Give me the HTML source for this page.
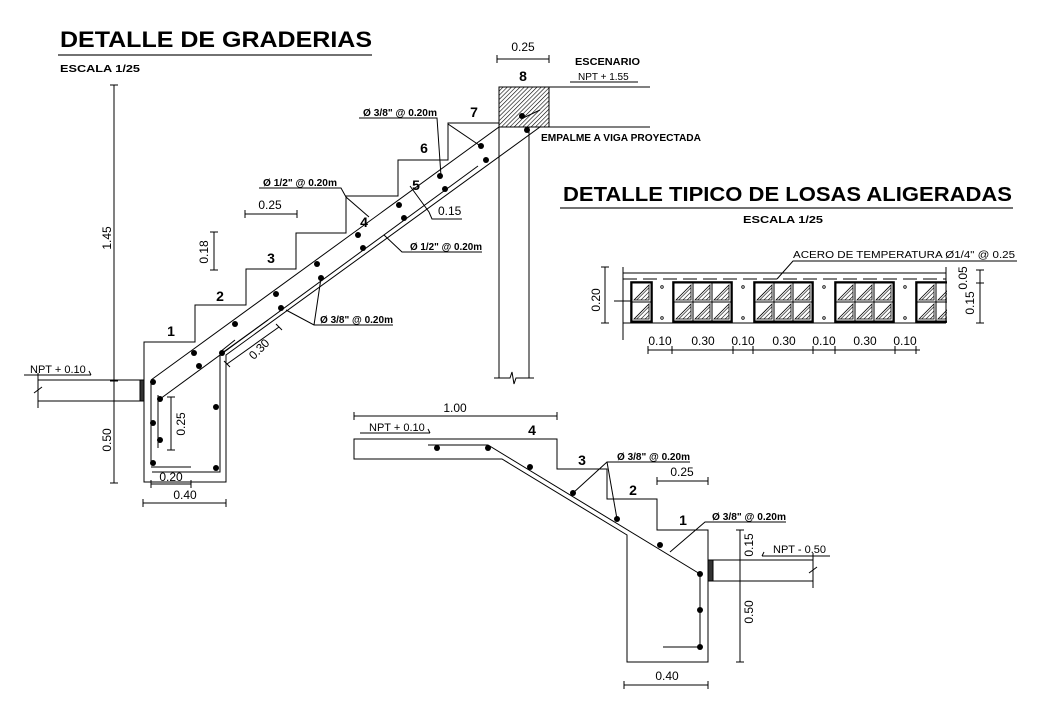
<!DOCTYPE html>
<html><head><meta charset="utf-8"><style>
html,body{margin:0;padding:0;background:#fff}
svg{display:block}
text{font-family:"Liberation Sans",sans-serif;fill:#000}
.d{font-size:12px}
.n{font-size:14px;font-weight:bold}
</style></head><body>
<svg width="1039" height="717" viewBox="0 0 1039 717" xmlns="http://www.w3.org/2000/svg">
<defs>
<pattern id="h" width="3" height="3" patternUnits="userSpaceOnUse" patternTransform="rotate(45)"><line x1="0" y1="0" x2="0" y2="3" stroke="#000" stroke-width="1.2"/></pattern>
<g id="cell"><rect x="0" y="0" width="19" height="19" fill="#fff" stroke="#000" stroke-width="1"/><polygon points="2,17 17,2 17,17" fill="url(#h)" stroke="#000" stroke-width="0.8"/></g>
</defs>
<rect width="1039" height="717" fill="#fff"/>

<text x="60" y="47" font-size="22" font-weight="bold" textLength="312" lengthAdjust="spacingAndGlyphs">DETALLE DE GRADERIAS</text>
<line x1="58" y1="55" x2="372" y2="55" stroke="#444" stroke-width="1.5"/>
<text x="60" y="72" font-size="10" font-weight="bold" textLength="80" lengthAdjust="spacingAndGlyphs">ESCALA 1/25</text>
<text x="563" y="201" font-size="20" font-weight="bold" textLength="449" lengthAdjust="spacingAndGlyphs">DETALLE TIPICO DE LOSAS ALIGERADAS</text>
<line x1="560" y1="208" x2="1013" y2="208" stroke="#444" stroke-width="1.5"/>
<text x="743" y="223" font-size="10" font-weight="bold" textLength="80" lengthAdjust="spacingAndGlyphs">ESCALA 1/25</text>

<g stroke="#000" stroke-width="1" fill="none">
<polyline points="540,127 226,355 226,482 144,482 144,342 195,342 195,305 246,305 246,269 296,269 296,233 346,233 346,196 398,196 398,160 448,160 448,123 499,123"/>
<line x1="151" y1="380" x2="499" y2="127"/>
<rect x="499" y="87" width="50" height="40" fill="url(#h)"/>
<line x1="549" y1="87" x2="650" y2="87"/>
<line x1="549" y1="127" x2="650" y2="127"/>
<line x1="499" y1="127" x2="499" y2="378"/>
<line x1="529" y1="127" x2="529" y2="378"/>
<polyline points="494,378 510,378 512,372 514,384 516,378 534,378"/>
<line x1="38" y1="380" x2="144" y2="380"/>
<line x1="38" y1="401" x2="144" y2="401"/>
<line x1="38" y1="373" x2="38" y2="408"/>
<line x1="34" y1="393" x2="42" y2="387"/>
<rect x="140" y="380" width="4" height="21" fill="#333"/>
<line x1="24" y1="375" x2="91" y2="375"/><polyline points="89,371 91,375"/>
<polyline points="151,382 151,463"/>
<polyline points="151,467 191,467"/>
<polyline points="152,472 220,472 220,352 235,340"/>
<line x1="158" y1="395" x2="158" y2="448"/>
<line x1="160" y1="399" x2="478" y2="166"/>
<line x1="222" y1="353" x2="268" y2="320"/>
<line x1="114" y1="85" x2="114" y2="483"/>
<line x1="171" y1="397" x2="171" y2="450"/>
<line x1="151" y1="484" x2="191" y2="484"/>
<line x1="143" y1="503" x2="226" y2="503"/>
<line x1="214" y1="232" x2="214" y2="270"/>
<line x1="245" y1="214" x2="297" y2="214"/>
<line x1="227" y1="364" x2="279" y2="327"/>
<polyline points="410,186 429,212 432,219 462,219"/>
<polyline points="359,118 437,118 441,176"/>
<line x1="448" y1="124" x2="479" y2="145"/>
<polyline points="259,188 341,188 346,197 369,217"/>
<polyline points="482,252 402,252 384,235"/>
<polyline points="393,325 314,325 286,310"/>
<line x1="314" y1="325" x2="321" y2="278"/>
<line x1="540" y1="110" x2="523" y2="118"/>

<line x1="497" y1="59" x2="549" y2="59"/>
<line x1="570" y1="82" x2="638" y2="82"/>

<line x1="623" y1="267" x2="623" y2="340"/>
<line x1="623" y1="273" x2="946" y2="273"/>
<line x1="623" y1="323" x2="946" y2="323"/>
<line x1="623" y1="279" x2="946" y2="279" stroke-dasharray="14,6"/>
<line x1="605" y1="267" x2="605" y2="323"/>
<line x1="980" y1="270" x2="980" y2="323"/>
<line x1="648" y1="350" x2="920" y2="350"/>
<polyline points="1017,261 793,261 777,279"/>
<line x1="614" y1="301" x2="634" y2="301"/>

<polygon points="354,439 557,439 557,469 607,469 607,499 657,499 657,530 708,530 708,662 627,662 627,535 502,459 354,459"/>
<polyline points="428,445 488,445 700,574 700,647 663,647"/>
<line x1="708" y1="560" x2="813" y2="560"/>
<line x1="708" y1="581" x2="813" y2="581"/>
<line x1="813" y1="553" x2="813" y2="588"/>
<line x1="809" y1="573" x2="817" y2="567"/>
<rect x="708" y="560" width="5" height="21" fill="#333"/>
<line x1="354" y1="416" x2="557" y2="416"/>
<line x1="360" y1="433" x2="430" y2="433"/><polyline points="428,429 430,433"/>
<line x1="657" y1="481" x2="708" y2="481"/>
<line x1="740" y1="530" x2="740" y2="662"/>
<line x1="762" y1="556" x2="830" y2="556"/><polyline points="764,552 762,556"/>
<line x1="624" y1="685" x2="708" y2="685"/>
<polyline points="690,462 607,462 573,493"/>
<line x1="607" y1="462" x2="617" y2="519"/>
<polyline points="786,522 705,522 670,552"/>
</g>

<g stroke="#000" stroke-width="1">
<path d="M110,85h8M110,381h8M110,483h8M167,397h8M167,450h8M210,232h8M210,270h8M151,480v8M191,480v8M143,499v8M226,499v8M245,210v8M297,210v8M224,361l6,6M276,324l6,6M497,55v8M549,55v8M354,412v8M557,412v8M657,477v8M708,477v8M736,530h8M736,560h8M736,662h8M624,681v8M708,681v8M601,267h8M601,323h8M976,270h8M976,283h8M976,323h8M648,346v8M672,346v8M733,346v8M753,346v8M813,346v8M835,346v8M895,346v8M916,346v8"/>
</g>

<g>
<use href="#cell" x="632" y="283"/><use href="#cell" x="632" y="302"/>
<use href="#cell" x="674" y="283"/><use href="#cell" x="693" y="283"/><use href="#cell" x="712" y="283"/>
<use href="#cell" x="674" y="302"/><use href="#cell" x="693" y="302"/><use href="#cell" x="712" y="302"/>
<use href="#cell" x="755" y="283"/><use href="#cell" x="774" y="283"/><use href="#cell" x="793" y="283"/>
<use href="#cell" x="755" y="302"/><use href="#cell" x="774" y="302"/><use href="#cell" x="793" y="302"/>
<use href="#cell" x="836" y="283"/><use href="#cell" x="855" y="283"/><use href="#cell" x="874" y="283"/>
<use href="#cell" x="836" y="302"/><use href="#cell" x="855" y="302"/><use href="#cell" x="874" y="302"/>
<use href="#cell" x="917" y="283"/><use href="#cell" x="936" y="283"/>
<use href="#cell" x="917" y="302"/><use href="#cell" x="936" y="302"/>
</g>
<g fill="none" stroke="#000" stroke-width="1.6">
<rect x="631" y="282" width="21" height="40"/>
<rect x="673" y="282" width="59" height="40"/>
<rect x="754" y="282" width="59" height="40"/>
<rect x="835" y="282" width="59" height="40"/>
<rect x="916" y="282" width="40" height="40"/>
</g>
<rect x="947" y="266" width="20" height="60" fill="#fff"/>
<line x1="946" y1="267" x2="946" y2="323" stroke="#000"/>
<g fill="#fff" stroke="#000" stroke-width="0.8">
<circle cx="662" cy="287" r="1.3"/><circle cx="662" cy="318" r="1.3"/>
<circle cx="743" cy="287" r="1.3"/><circle cx="743" cy="318" r="1.3"/>
<circle cx="824" cy="287" r="1.3"/><circle cx="824" cy="318" r="1.3"/>
<circle cx="905" cy="287" r="1.3"/><circle cx="905" cy="318" r="1.3"/>
</g>

<g fill="#000">
<circle cx="153" cy="382" r="3"/><circle cx="153" cy="423" r="3"/><circle cx="153" cy="463" r="3"/>
<circle cx="160" cy="399" r="3"/><circle cx="160" cy="440" r="3"/>
<circle cx="216" cy="407" r="3"/><circle cx="216" cy="468" r="3"/><circle cx="222" cy="353" r="3"/>
<circle cx="194" cy="353" r="3"/><circle cx="235" cy="324" r="3"/><circle cx="276" cy="294" r="3"/><circle cx="317" cy="264" r="3"/><circle cx="358" cy="235" r="3"/><circle cx="399" cy="205" r="3"/><circle cx="440" cy="176" r="3"/><circle cx="481" cy="146" r="3"/>
<circle cx="199" cy="366" r="3"/><circle cx="281" cy="308" r="3"/><circle cx="321" cy="278" r="3"/><circle cx="363" cy="248" r="3"/><circle cx="404" cy="218" r="3"/><circle cx="445" cy="189" r="3"/><circle cx="486" cy="160" r="3"/>
<circle cx="522" cy="116" r="3"/><circle cx="527" cy="130" r="3"/>
<circle cx="437" cy="448" r="3"/><circle cx="488" cy="448" r="3"/><circle cx="530" cy="467" r="3"/><circle cx="573" cy="493" r="3"/><circle cx="617" cy="519" r="3"/><circle cx="660" cy="545" r="3"/><circle cx="700" cy="574" r="3"/><circle cx="700" cy="610" r="3"/><circle cx="700" cy="647" r="3"/>
</g>

<g class="d">
<text x="30" y="373" font-size="11">NPT + 0.10</text>
<text transform="translate(111,440) rotate(-90)" text-anchor="middle">0.50</text>
<text transform="translate(111,238) rotate(-90)" text-anchor="middle">1.45</text>
<text transform="translate(185,424) rotate(-90)" text-anchor="middle">0.25</text>
<text transform="translate(208,252) rotate(-90)" text-anchor="middle">0.18</text>
<text x="171" y="481" text-anchor="middle">0.20</text>
<text x="185" y="499" text-anchor="middle">0.40</text>
<text x="270" y="209" text-anchor="middle">0.25</text>
<text transform="translate(262,352) rotate(-45)" text-anchor="middle">0.30</text>
<text x="438" y="215">0.15</text>
<text x="523" y="51" text-anchor="middle">0.25</text>
<text x="455" y="412" text-anchor="middle">1.00</text>
<text x="369" y="431" font-size="11">NPT + 0.10</text>
<text x="682" y="476" text-anchor="middle">0.25</text>
<text x="667" y="680" text-anchor="middle">0.40</text>
<text transform="translate(753,545) rotate(-90)" text-anchor="middle">0.15</text>
<text transform="translate(753,612) rotate(-90)" text-anchor="middle">0.50</text>
<text x="773" y="553" font-size="11">NPT - 0.50</text>
<text transform="translate(600,300) rotate(-90)" text-anchor="middle">0.20</text>
<text transform="translate(967,278) rotate(-90)" text-anchor="middle">0.05</text>
<text transform="translate(974,303) rotate(-90)" text-anchor="middle">0.15</text>
<text x="660" y="345" text-anchor="middle">0.10</text>
<text x="703" y="345" text-anchor="middle">0.30</text>
<text x="743" y="345" text-anchor="middle">0.10</text>
<text x="784" y="345" text-anchor="middle">0.30</text>
<text x="824" y="345" text-anchor="middle">0.10</text>
<text x="865" y="345" text-anchor="middle">0.30</text>
<text x="905" y="345" text-anchor="middle">0.10</text>
<text x="793" y="258" font-size="10" textLength="222" lengthAdjust="spacingAndGlyphs">ACERO DE TEMPERATURA Ø1/4" @ 0.25</text>
</g>
<g font-size="10" font-weight="bold">
<text x="575" y="65" textLength="65" lengthAdjust="spacingAndGlyphs">ESCENARIO</text>
<text x="578" y="80" font-weight="normal" font-size="10">NPT + 1.55</text>
<text x="541" y="141" textLength="160" lengthAdjust="spacingAndGlyphs">EMPALME A VIGA PROYECTADA</text>
<text x="363" y="116" textLength="74" lengthAdjust="spacingAndGlyphs">Ø 3/8" @ 0.20m</text>
<text x="263" y="186" textLength="74" lengthAdjust="spacingAndGlyphs">Ø 1/2" @ 0.20m</text>
<text x="410" y="250" textLength="72" lengthAdjust="spacingAndGlyphs">Ø 1/2" @ 0.20m</text>
<text x="320" y="323" textLength="73" lengthAdjust="spacingAndGlyphs">Ø 3/8" @ 0.20m</text>
<text x="617" y="460" textLength="73" lengthAdjust="spacingAndGlyphs">Ø 3/8" @ 0.20m</text>
<text x="712" y="520" textLength="74" lengthAdjust="spacingAndGlyphs">Ø 3/8" @ 0.20m</text>
</g>
<g class="n" text-anchor="middle">
<text x="171" y="336">1</text><text x="220" y="301">2</text><text x="271" y="263">3</text><text x="364" y="227">4</text><text x="416" y="190">5</text><text x="424" y="153">6</text><text x="474" y="117">7</text><text x="523" y="81">8</text>
<text x="532" y="435">4</text><text x="582" y="465">3</text><text x="633" y="495">2</text><text x="683" y="525">1</text>
</g>
</svg>
</body></html>
